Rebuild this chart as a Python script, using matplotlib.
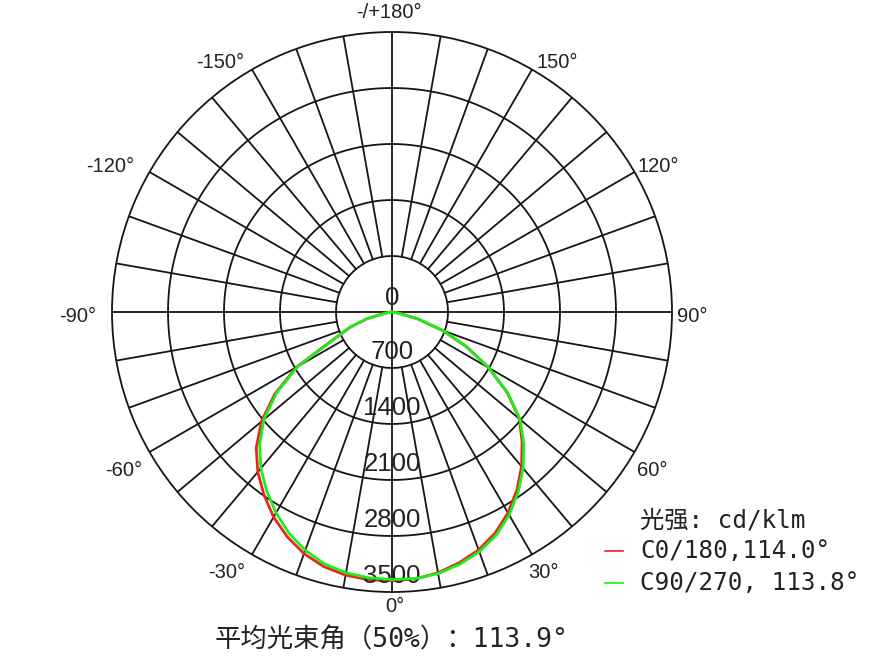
import numpy as np
import matplotlib
matplotlib.use('Agg')
import matplotlib.pyplot as plt
from matplotlib.lines import Line2D

plt.rcParams['font.family'] = ['Liberation Sans', 'Noto Sans CJK SC']

# gamma angles (deg), 0 = straight down, positive to the right
angles = [-90, -85, -80, -75, -70, -65, -60, -55, -50, -45, -40, -35, -30,
          -25, -20, -15, -10, -5, 0, 5, 10, 15, 20, 25, 30, 35, 40, 45, 50,
          55, 60, 65, 70, 75, 80, 85, 90]
# intensity in cd/klm
c0_180 = [0, 20, 80, 320, 560, 800, 1380, 1790, 2130, 2400, 2610, 2790, 2960,
          3100, 3215, 3295, 3340, 3360, 3360, 3350, 3310, 3245, 3165, 3050, 2900,
          2720, 2520, 2300, 2080, 1760, 1400, 1030, 670, 330, 80, 20, 0]
c90_270 = [0, 20, 90, 330, 560, 790, 1360, 1760, 2090, 2340, 2550, 2730, 2900,
           3050, 3170, 3260, 3310, 3335, 3345, 3345, 3320, 3265, 3190, 3080, 2930,
           2750, 2550, 2330, 2090, 1770, 1400, 1020, 680, 340, 90, 20, 0]

rings = [700, 1400, 2100, 2800, 3500]
ring_labels = ['700', '1400', '2100', '2800', '3500']
angle_labels = ['0°', '30°', '60°', '90°', '120°', '150°', '-/+180°',
                '-150°', '-120°', '-90°', '-60°', '-30°']
# label centres in pixels (x, y from top)
label_pos = [(395, 606), (543, 573), (652, 470), (692, 316), (658, 167), (557, 62),
             (389, 12), (220, 62), (110, 167), (78, 316), (124, 470), (227, 573)]

W, H = 880, 660
fig = plt.figure(figsize=(W / 100, H / 100), dpi=100)
ax = fig.add_axes([112 / W, 68 / H, 560 / W, 560 / H], projection='polar')
ax.set_theta_zero_location('S')
ax.set_theta_direction(1)
ax.set_ylim(0, 3500)
ax.grid(False)
ax.set_xticks([])
ax.set_yticks([])
gc = '#151515'
ax.spines['polar'].set_color(gc)
ax.spines['polar'].set_linewidth(1.3)

t = np.linspace(0, 2 * np.pi, 721)
for v in rings[:-1]:
    ax.plot(t, np.full_like(t, v), color=gc, lw=1.3)
for a in range(0, 360, 10):
    r0 = 0 if a % 90 == 0 else rings[0]
    ax.plot([np.radians(a)] * 2, [r0, 3500], color=gc, lw=1.3)

th = np.radians(angles)
ax.plot(th, c0_180, color='#e8261e', lw=2.0, zorder=3)
ax.plot(th, c90_270, color='#19f019', lw=2.0, zorder=4)

# ring labels
ax.text(np.pi, 170, '0', ha='center', va='center', fontsize=18.5, color='#222222')
for v, s in zip(rings, ring_labels):
    ax.text(0, v - 200, s, ha='center', va='center', fontsize=18.5, color='#222222')
ax.set_rmax(3500)

# angle labels
for (x, y), s in zip(label_pos, angle_labels):
    fig.text(x / W, 1 - y / H, s, ha='center', va='center', fontsize=14.5, color='#222222')

mono = ['DejaVu Sans Mono', 'Noto Sans CJK SC']
fig.text(640 / W, 1 - 520 / H, '光强: cd/klm', family=mono, fontsize=17.5,
         ha='left', va='center', color='#222222')
fig.text(640 / W, 1 - 551 / H, 'C0/180,114.0°', family=mono, fontsize=17.5,
         ha='left', va='center', color='#222222')
fig.text(640 / W, 1 - 583 / H, 'C90/270, 113.8°', family=mono, fontsize=17.5,
         ha='left', va='center', color='#222222')
fig.add_artist(Line2D([605 / W, 623 / W], [1 - 551 / H] * 2, color='#e8261e', lw=1.2))
fig.add_artist(Line2D([605 / W, 623 / W], [1 - 583 / H] * 2, color='#19f019', lw=1.2))

fig.text(392 / W, 1 - 640 / H, '平均光束角（50%）：113.9°', family=mono, fontsize=19,
         ha='center', va='center', color='#222222')

fig.savefig('out.png', dpi=100, facecolor='white')
